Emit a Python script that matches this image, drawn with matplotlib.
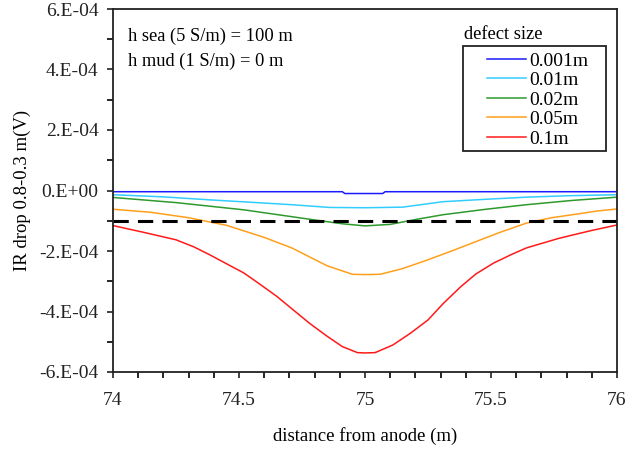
import matplotlib
matplotlib.use("Agg")
import matplotlib.pyplot as plt
from matplotlib.ticker import MultipleLocator, FuncFormatter
from matplotlib.patches import Rectangle

plt.rcParams['font.family'] = ['Liberation Serif', 'DejaVu Serif']

# ---- data ----
x_blue = [74.0, 74.5, 74.91, 74.92, 75.07, 75.08, 75.5, 76.0]
y_blue = [-4e-6, -4e-6, -4e-6, -1e-5, -1e-5, -4e-6, -4e-6, -4e-6]

x_cyan = [74.0, 74.2, 74.385, 74.55, 74.71, 74.86, 75.0, 75.15, 75.31, 75.48, 75.64, 75.82, 76.0]
y_cyan = [-1.4e-5, -2.1e-5, -3.1e-5, -3.9e-5, -4.7e-5, -5.6e-5, -5.7e-5, -5.5e-5, -3.7e-5, -2.9e-5, -2.2e-5, -1.7e-5, -1.4e-5]

x_green = [74.0, 74.25, 74.52, 74.78, 74.91, 75.0, 75.1, 75.2, 75.31, 75.48, 75.64, 75.82, 76.0]
y_green = [-2.3e-5, -4.0e-5, -6.4e-5, -9.5e-5, -1.1e-4, -1.17e-4, -1.12e-4, -9.6e-5, -8.0e-5, -6.2e-5, -4.7e-5, -3.3e-5, -2.2e-5]

x_orange = [74.0, 74.15, 74.3, 74.45, 74.6, 74.71, 74.85, 74.95, 75.0, 75.06, 75.15, 75.25, 75.35, 75.44, 75.54, 75.64, 75.74, 75.84, 75.92, 76.0]
y_orange = [-6.2e-5, -7.2e-5, -9.0e-5, -1.15e-4, -1.55e-4, -1.9e-4, -2.49e-4, -2.77e-4, -2.78e-4, -2.77e-4, -2.58e-4, -2.29e-4, -1.98e-4, -1.69e-4, -1.37e-4, -1.08e-4, -9.0e-5, -7.8e-5, -6.8e-5, -6.1e-5]

x_red = [74.0, 74.12, 74.25, 74.32, 74.385, 74.45, 74.52, 74.58, 74.65, 74.72, 74.78, 74.85, 74.91, 74.97, 75.0, 75.04, 75.11, 75.18, 75.25, 75.31, 75.38, 75.44, 75.51, 75.58, 75.64, 75.77, 75.9, 76.0]
y_red = [-1.16e-4, -1.38e-4, -1.63e-4, -1.86e-4, -2.13e-4, -2.42e-4, -2.73e-4, -3.08e-4, -3.5e-4, -3.98e-4, -4.39e-4, -4.82e-4, -5.16e-4, -5.36e-4, -5.37e-4, -5.36e-4, -5.11e-4, -4.72e-4, -4.28e-4, -3.74e-4, -3.18e-4, -2.76e-4, -2.4e-4, -2.12e-4, -1.9e-4, -1.58e-4, -1.32e-4, -1.14e-4]

threshold = -1e-4
series_labels = ['0.001m', '0.01m', '0.02m', '0.05m', '0.1m']
series_colors = ['#1a1aff', '#33ccff', '#2e9a2e', '#ff9f1a', '#ff1a1a']

fig = plt.figure(figsize=(6.38, 4.49), dpi=100)
ax = fig.add_axes([113/638, 1-372/449, (617-113)/638, (372-9)/449])

xs = [x_blue, x_cyan, x_green, x_orange, x_red]
ys = [y_blue, y_cyan, y_green, y_orange, y_red]
handles = []
for xv, yv, lab, c in zip(xs, ys, series_labels, series_colors):
    h, = ax.plot(xv, yv, color=c, lw=1.1, label=lab)
    handles.append(h)

ax.axhline(threshold, color='black', lw=2.2, dashes=(5, 3))

ax.set_xlim(74, 76)
ax.set_ylim(-6e-4, 6e-4)
ax.xaxis.set_major_locator(MultipleLocator(0.5))
ax.xaxis.set_minor_locator(MultipleLocator(0.1))
ax.yaxis.set_major_locator(MultipleLocator(2e-4))
ax.yaxis.set_minor_locator(MultipleLocator(1e-4))

def yfmt(v, pos):
    if abs(v) < 1e-12:
        return '0.E+00'
    m = v / 1e-4
    return '%d.E-04' % round(m)
ax.yaxis.set_major_formatter(FuncFormatter(yfmt))
ax.xaxis.set_major_formatter(FuncFormatter(lambda v, p: ('%g' % v)))

ax.tick_params(axis='both', which='major', direction='out', length=4.5, width=1.2,
               labelsize=14, colors='#222222')
ax.tick_params(axis='both', which='minor', direction='out', length=4, width=1.2)
ax.tick_params(axis='x', pad=10)
ax.tick_params(axis='y', pad=6)
for s in ax.spines.values():
    s.set_linewidth(1.3)
    s.set_color('#222222')

ax.set_xlabel('distance from anode (m)', fontsize=13.5, labelpad=13)
ax.set_ylabel('IR drop 0.8-0.3 m(V)', fontsize=13.5, labelpad=6)

ax.text(0.03, 0.926, 'h sea (5 S/m) = 100 m', transform=ax.transAxes, fontsize=13.3, va='center')
ax.text(0.03, 0.857, 'h mud (1 S/m) = 0 m', transform=ax.transAxes, fontsize=13.3, va='center')

ax.text(0.697, 0.93, 'defect size', transform=ax.transAxes, fontsize=13.3, va='center')

# legend frame box (drawn separately so the padding can match)
def ax_x(px):
    return (px - 113) / (617 - 113)
def ax_y(py):
    return (372 - py) / (372 - 9)
frame = Rectangle((ax_x(463), ax_y(151)), ax_x(606) - ax_x(463), ax_y(46) - ax_y(151),
                  transform=ax.transAxes, fill=True, facecolor='white',
                  edgecolor='#222222', lw=1.3, zorder=4)
ax.add_patch(frame)

leg = ax.legend(handles=handles, loc='upper left',
                bbox_to_anchor=(ax_x(487), ax_y(52)),
                fontsize=14, frameon=False,
                handlelength=2.0, handletextpad=0.15, labelspacing=0.1,
                borderpad=0.0, borderaxespad=0)
leg.set_zorder(5)

fig.savefig('out.png', dpi=100)
